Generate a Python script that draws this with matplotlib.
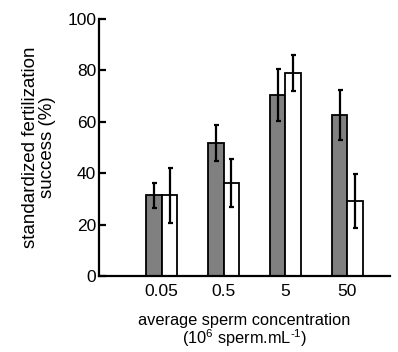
import matplotlib
matplotlib.use("Agg")
import matplotlib.pyplot as plt
import numpy as np

plt.rcParams['font.family'] = ['Liberation Sans', 'DejaVu Sans']
plt.rcParams['mathtext.fontset'] = 'custom'
plt.rcParams['mathtext.rm'] = 'Liberation Sans'
plt.rcParams['mathtext.it'] = 'Liberation Sans'
plt.rcParams['mathtext.default'] = 'regular'

categories = ["0.05", "0.5", "5", "50"]
dark_vals = [31.3, 51.5, 70.2, 62.6]
dark_err = [5.0, 7.0, 10.1, 9.8]
white_vals = [31.3, 36.1, 79.0, 29.1]
white_err = [10.7, 9.3, 7.0, 10.6]
yticks = [0, 20, 40, 60, 80, 100]

fig = plt.figure(figsize=(3.98, 3.52), dpi=100)
ax = fig.add_axes([0.249, 0.216, 0.731, 0.731])

x = np.arange(len(categories))
w = 0.252
ekw = dict(elinewidth=1.6, capsize=1.8, capthick=1.6, ecolor='black')
ax.bar(x - w/2, dark_vals, w, color='#808080', edgecolor='black', linewidth=1.3,
       yerr=dark_err, error_kw=ekw, zorder=2)
ax.bar(x + w/2, white_vals, w, color='white', edgecolor='black', linewidth=1.3,
       yerr=white_err, error_kw=ekw, zorder=2)

ax.set_xlim(-1.013, 3.69)
ax.set_ylim(0, 100)
ax.set_yticks(yticks)
ax.set_xticks(x)
ax.set_xticklabels(categories)
for s in ['top', 'right']:
    ax.spines[s].set_visible(False)
for s in ['left', 'bottom']:
    ax.spines[s].set_linewidth(1.6)
ax.tick_params(axis='y', direction='in', length=5, width=1.6, labelsize=12.5, pad=2)
ax.tick_params(axis='x', length=0, labelsize=12.5, pad=6)

ax.set_ylabel("standardized fertilization\nsuccess (%)", fontsize=13.5, linespacing=1.0, labelpad=8)
ax.set_xlabel("average sperm concentration\n(10$^{6}$ sperm.mL$^{\\text{-}1}$)", fontsize=11.8,
              linespacing=0.95, labelpad=10)

fig.savefig("out.png", dpi=100)
